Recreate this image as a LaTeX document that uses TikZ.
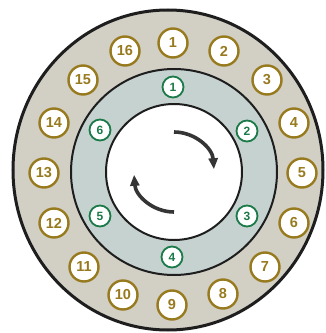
\documentclass[tikz,border=0pt]{standalone}
\usepackage{fontspec}
\setmainfont{Liberation Sans}
\usetikzlibrary{arrows.meta}
\definecolor{gold}{RGB}{152,122,30}
\definecolor{ringgreen}{RGB}{26,122,72}
\definecolor{stone}{RGB}{210,207,197}
\definecolor{mist}{RGB}{198,210,208}
\definecolor{ink}{RGB}{30,30,30}
\begin{document}
\begin{tikzpicture}[x=1pt,y=1pt,
  seat/.style={circle,draw=gold,fill=white,line width=2.4pt,text=gold,
    minimum size=29pt,inner sep=0pt,font=\fontsize{14.5}{15}\selectfont\bfseries},
  pin/.style={circle,draw=ringgreen,fill=white,line width=1.8pt,text=ringgreen,
    minimum size=21pt,inner sep=0pt,font=\fontsize{12}{12}\selectfont\bfseries},
  turn/.style={draw=ink!90,line width=3.6pt,-{Triangle[length=11pt,width=9pt]}}]
  \useasboundingbox (0,0) rectangle (326,333);
  \fill[white] (0,0) rectangle (326,333);
  % rings
  \draw[ink,fill=stone,line width=3pt] (168,163) ellipse [x radius=155,y radius=160];
  \draw[ink,fill=mist,line width=2pt] (174,161) circle[radius=103];
  \draw[ink,fill=white,line width=2pt] (174,161) circle[radius=68];
  % outer seats
  \node[seat] (o1)  at (173,290) {1};
  \node[seat] (o2)  at (224,282) {2};
  \node[seat] (o3)  at (267,253) {3};
  \node[seat] (o4)  at (294,210) {4};
  \node[seat] (o5)  at (302,160) {5};
  \node[seat] (o6)  at (294,110) {6};
  \node[seat] (o7)  at (265,66)  {7};
  \node[seat] (o8)  at (223,39)  {8};
  \node[seat] (o9)  at (172,28)  {9};
  \node[seat] (o10) at (123,38)  {10};
  \node[seat] (o11) at (84,66)   {11};
  \node[seat] (o12) at (54,110)  {12};
  \node[seat] (o13) at (44,160)  {13};
  \node[seat] (o14) at (54,210)  {14};
  \node[seat] (o15) at (83,253)  {15};
  \node[seat] (o16) at (125,282) {16};
  % inner pins
  \node[pin] (i1) at (173,246) {1};
  \node[pin] (i2) at (247,202) {2};
  \node[pin] (i3) at (247,117) {3};
  \node[pin] (i4) at (172,76)  {4};
  \node[pin] (i5) at (100,117) {5};
  \node[pin] (i6) at (100,203) {6};
  % rotation
  \draw[turn] (174,201) arc[start angle=90,end angle=4,radius=40];
  \draw[turn] (174,121) arc[start angle=270,end angle=184,radius=40];
\end{tikzpicture}
\end{document}
